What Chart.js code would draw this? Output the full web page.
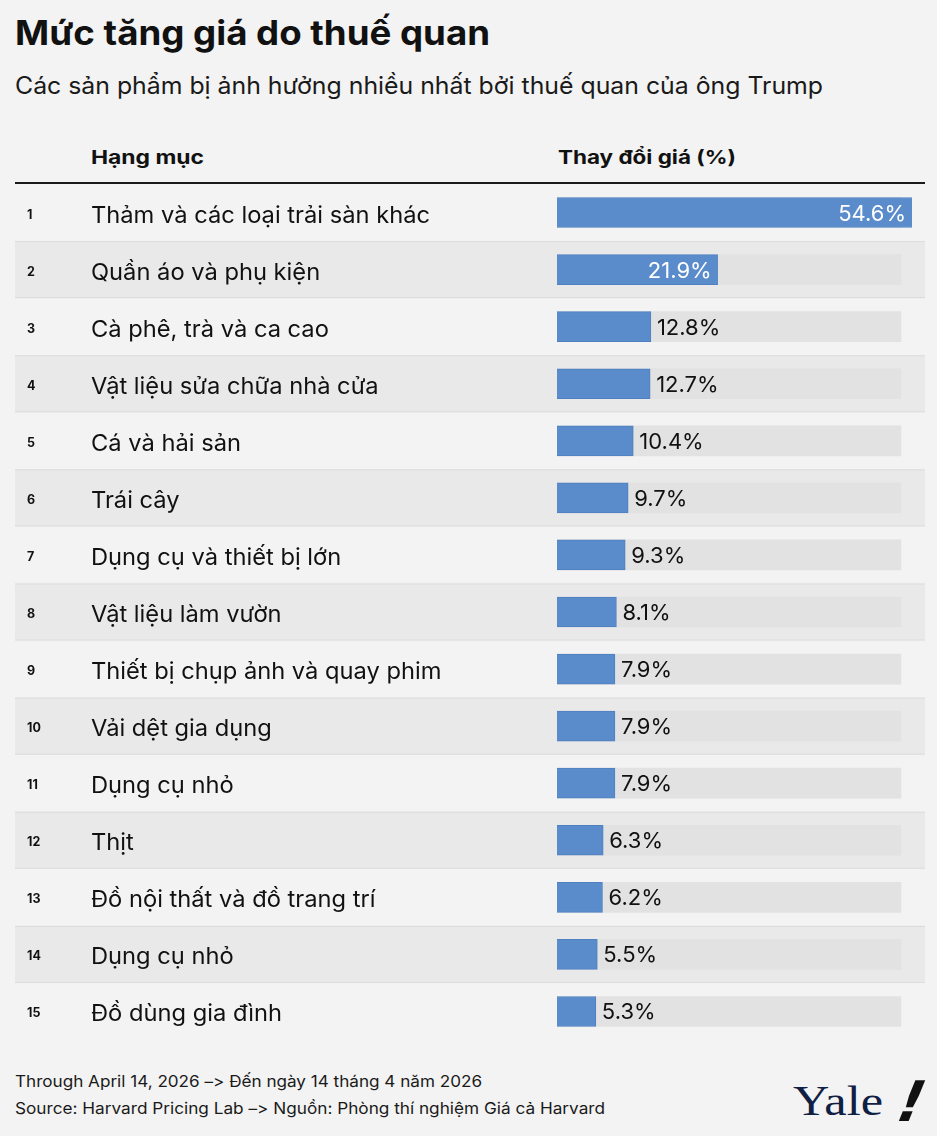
<!DOCTYPE html>
<html><head><meta charset="utf-8">
<script src="https://cdn.jsdelivr.net/npm/chart.js@4.4.1/dist/chart.umd.min.js"></script>
<style>
html,body{margin:0;padding:0}
body{background:#f3f3f3;width:937px;height:1136px;overflow:hidden;position:relative;font-family:Inter,"Noto Sans",sans-serif;color:#111;font-feature-settings:"calt" 0,"liga" 0;font-variant-ligatures:none}
.t{position:absolute;white-space:nowrap;transform-origin:0 0;line-height:1}
#wrap{position:absolute;left:0;top:184px;width:937px;height:856px}
#hline{position:absolute;left:15px;top:182px;width:910px;height:2px;background:#1a1a1a}
</style></head><body>
<div class="t" id="title" style="left:15px;top:16px;font-size:34px;font-weight:700;">Mức tăng giá do thuế quan</div>
<div class="t" id="subtitle" style="left:15px;top:74px;font-size:24px;font-weight:400;color:#1a1a1a">Các sản phẩm bị ảnh hưởng nhiều nhất bởi thuế quan của ông Trump</div>
<div class="t" id="h1" style="left:91px;top:148px;font-size:19px;font-weight:700;">Hạng mục</div>
<div class="t" id="h2" style="left:558px;top:148px;font-size:19px;font-weight:700;">Thay đổi giá (%)</div>
<div id="hline"></div>
<div id="wrap"><canvas id="c" width="937" height="856"></canvas></div>
<div class="t" id="f1" style="left:15px;top:1073px;font-size:16px;color:#1a1a1a">Through April 14, 2026 <span>–</span><span>&gt;</span> Đến ngày 14 tháng 4 năm 2026</div>
<div class="t" id="f2" style="left:15px;top:1100px;font-size:16px;color:#1a1a1a">Source: Harvard Pricing Lab <span>–</span><span>&gt;</span> Nguồn: Phòng thí nghiệm Giá cả Harvard</div>
<div class="t" id="yale" style="left:793px;top:1080px;font-size:42px;font-family:'Liberation Serif','DejaVu Serif',serif;color:#102043">Yale</div>
<div class="t" id="bang" style="left:910px;top:1074px;font-size:56px;font-weight:900;font-family:'DejaVu Sans',sans-serif;color:#111;transform:skewX(-22deg)">!</div>
<script>
const RANKS = [1,2,3,4,5,6,7,8,9,10,11,12,13,14,15];
const CATEGORIES = [
  "Thảm và các loại trải sàn khác",
  "Quần áo và phụ kiện",
  "Cà phê, trà và ca cao",
  "Vật liệu sửa chữa nhà cửa",
  "Cá và hải sản",
  "Trái cây",
  "Dụng cụ và thiết bị lớn",
  "Vật liệu làm vườn",
  "Thiết bị chụp ảnh và quay phim",
  "Vải dệt gia dụng",
  "Dụng cụ nhỏ",
  "Thịt",
  "Đồ nội thất và đồ trang trí",
  "Dụng cụ nhỏ",
  "Đồ dùng gia đình"
];
const PRICE_CHANGE = [54.6,21.9,12.8,12.7,10.4,9.7,9.3,8.1,7.9,7.9,7.9,6.3,6.2,5.5,5.3];
const TRACK_VALUE = 46.9;
const AXIS_MAX = 48.4;

function fit(id, w){
  const el = document.getElementById(id);
  const cur = el.getBoundingClientRect().width;
  el.style.transform = 'scaleX(' + (w/cur) + ')';
}

const rowPlugin = {
  id:'rows',
  beforeDatasetsDraw(chart){
    const ctx = chart.ctx, y = chart.scales.y;
    const h = (y.bottom - y.top) / RANKS.length;
    ctx.save();
    RANKS.forEach((r,i)=>{
      if (i % 2 === 1){
        const cy = y.getPixelForValue(i);
        ctx.fillStyle = '#e9e9e9';
        ctx.fillRect(15, cy - h/2, 910, h);
        ctx.fillStyle = '#dcdcdc';
        ctx.fillRect(15, cy - h/2, 910, 1);
        ctx.fillRect(15, cy + h/2 - 1, 910, 1);
      }
    });
    ctx.restore();
  },
  afterDatasetsDraw(chart){
    const ctx = chart.ctx, y = chart.scales.y;
    const meta = chart.getDatasetMeta(0);
    ctx.save();
    ctx.textBaseline = 'alphabetic';
    ctx.font = '400 23px Inter, "Noto Sans", sans-serif';
    const s = 339 / ctx.measureText(CATEGORIES[0]).width;
    RANKS.forEach((r,i)=>{
      const cy = y.getPixelForValue(i);
      ctx.fillStyle = '#111';
      ctx.font = '700 12.5px Inter, "Noto Sans", sans-serif';
      ctx.textAlign = 'left';
      ctx.fillText(String(r), 27, cy + 6);
      ctx.font = '400 23px Inter, "Noto Sans", sans-serif';
      ctx.save();
      ctx.translate(91, cy + 10);
      ctx.scale(s, 1);
      ctx.fillText(CATEGORIES[i], 0, 0);
      ctx.restore();
      const bar = meta.data[i];
      const right = Math.min(bar.x, chart.chartArea.right);
      const left = bar.base;
      const txt = PRICE_CHANGE[i].toFixed(1) + '%';
      ctx.font = '400 22px Inter, "Noto Sans", sans-serif';
      if (right - left > 120){
        ctx.fillStyle = '#ffffff';
        ctx.textAlign = 'right';
        ctx.fillText(txt, right - 6, cy + 8);
      } else {
        ctx.fillStyle = '#111';
        ctx.textAlign = 'left';
        ctx.fillText(txt, right + 6, cy + 8);
      }
    });
    ctx.restore();
  }
};

function draw(){
  fit('title', 475);
  fit('subtitle', 808);
  fit('h1', 113);
  fit('h2', 178);
  fit('f1', 467);
  fit('f2', 590);
  fit('yale', 90);
  new Chart(document.getElementById('c'), {
    type:'bar',
    data:{
      labels: RANKS.map(String),
      datasets:[
        {data: PRICE_CHANGE, backgroundColor:'#5a8bcb', borderColor:'#4f80c0', borderWidth:1, barThickness:30, grouped:false, order:0},
        {data: RANKS.map(()=>TRACK_VALUE), backgroundColor:'#e2e2e2', borderWidth:0, barThickness:30, grouped:false, order:1}
      ]
    },
    options:{
      indexAxis:'y', responsive:false, animation:false, events:[],
      layout:{padding:{left:557, right:25, top:0, bottom:0}},
      scales:{
        x:{display:false, min:0, max:AXIS_MAX},
        y:{display:false}
      },
      plugins:{legend:{display:false}, tooltip:{enabled:false}}
    },
    plugins:[rowPlugin]
  });
}
if (document.fonts && document.fonts.ready) document.fonts.ready.then(draw); else draw();
</script>
</body></html>
